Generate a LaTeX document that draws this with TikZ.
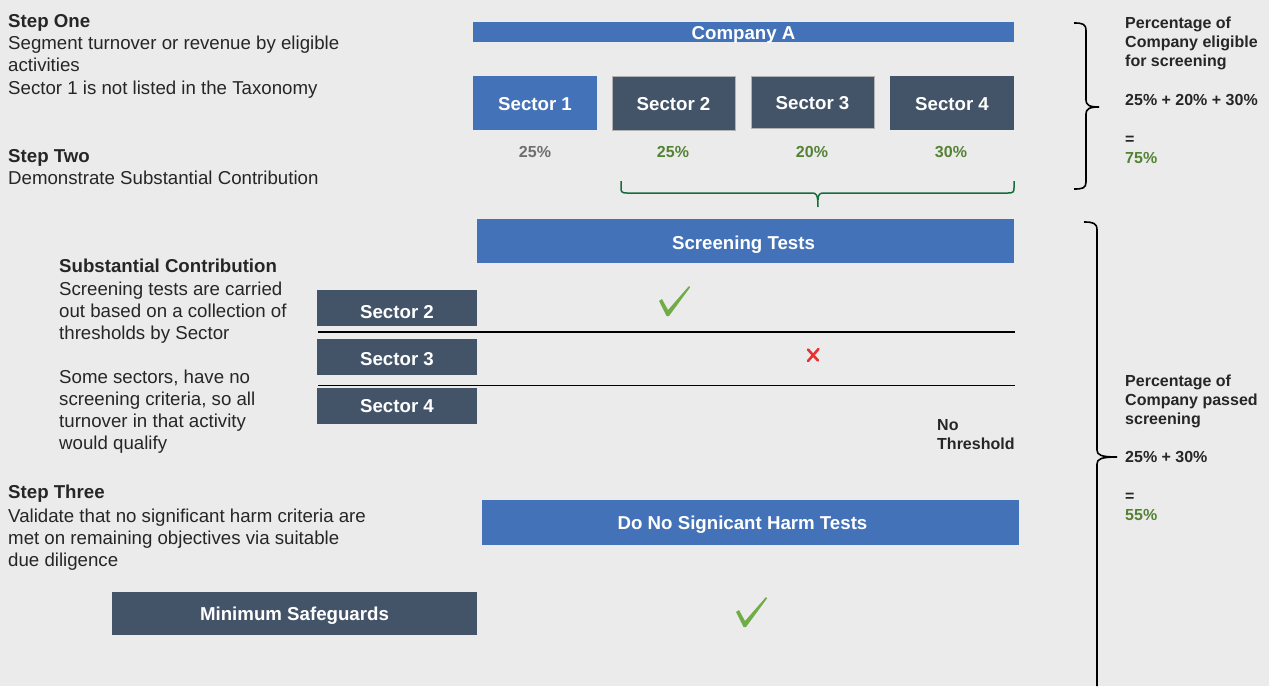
\documentclass[tikz,border=0pt]{standalone}
\usepackage{fontspec}
\setmainfont{Liberation Sans}
\definecolor{bg}{RGB}{235,235,235}
\definecolor{cblue}{RGB}{68,114,184}
\definecolor{cslate}{RGB}{67,84,105}
\definecolor{ctext}{RGB}{38,38,38}
\definecolor{cgreen}{RGB}{84,130,53}
\definecolor{cgray}{RGB}{110,110,110}
\definecolor{bracegreen}{RGB}{20,110,60}
\definecolor{checkgreen}{RGB}{112,173,71}
\definecolor{xred}{RGB}{232,50,50}
\begin{document}
\begin{tikzpicture}[x=1pt,y=-1pt,
  bx/.style={inner sep=0pt, text=white, font=\fontsize{18.67}{22}\selectfont\bfseries, text height=#1, text depth=0pt},
  bluebox/.style={bx=#1, fill=cblue},
  slatebox/.style={bx=#1, fill=cslate},
  txt/.style={inner sep=0pt, anchor=base west, text=ctext, font=\fontsize{18.67}{22}\selectfont},
  btxt/.style={txt, font=\fontsize{18.67}{22}\selectfont\bfseries},
  rtxt/.style={inner sep=0pt, anchor=base west, text=ctext, font=\fontsize{16}{19}\selectfont\bfseries},
  pct/.style={inner sep=0pt, anchor=base, font=\fontsize{16}{19}\selectfont\bfseries},
  brace/.style={line width=1.6pt, black},
  chk/.pic={\fill[checkgreen] (0,15) -- (3,13) -- (9,24) -- (30,0) -- (31,1.5) -- (10,30) -- (7.5,30) -- cycle;}
]
\useasboundingbox (0,0) rectangle (1269,686);
\fill[bg] (0,0) rectangle (1269,686);

% left texts
\node[btxt] (s1h) at (8,27) {Step One};
\node[txt] (s1a) at (8,49.5) {Segment turnover or revenue by eligible};
\node[txt] (s1b) at (8,71.7) {activities};
\node[txt] (s1c) at (8,94) {Sector 1 is not listed in the Taxonomy};
\node[btxt] (s2h) at (8,162) {Step Two};
\node[txt] (s2a) at (8,184) {Demonstrate Substantial Contribution};

\node[btxt] (sch) at (59,272.5) {Substantial Contribution};
\node[txt] (sc1) at (59,295.5) {Screening tests are carried};
\node[txt] (sc2) at (59,317.5) {out based on a collection of};
\node[txt] (sc3) at (59,339.5) {thresholds by Sector};
\node[txt] (sc4) at (59,383.5) {Some sectors, have no};
\node[txt] (sc5) at (59,405.5) {screening criteria, so all};
\node[txt] (sc6) at (59,427.5) {turnover in that activity};
\node[txt] (sc7) at (59,449.5) {would qualify};

\node[btxt] (s3h) at (8,498.5) {Step Three};
\node[txt] (s3a) at (8,522.5) {Validate that no significant harm criteria are};
\node[txt] (s3b) at (8,544.5) {met on remaining objectives via suitable};
\node[txt] (s3c) at (8,566.5) {due diligence};

% top boxes
\node[bluebox=14.4pt, minimum width=541pt, minimum height=20pt] (comp) at (743.5,32) {Company A};
\node[bluebox=14.8pt, minimum width=124pt, minimum height=54pt] (sec1) at (535,103) {Sector 1};
\node[slatebox=14.8pt, draw=gray!60, line width=0.6pt, minimum width=123pt, minimum height=54pt] (sec2) at (673.5,103) {Sector 2};
\node[slatebox=14.8pt, draw=gray!60, line width=0.6pt, minimum width=123pt, minimum height=52pt] (sec3) at (812.5,102) {Sector 3};
\node[slatebox=14.8pt, minimum width=124pt, minimum height=54pt] (sec4) at (952,103) {Sector 4};

\node[pct, text=cgray] (p1) at (535,157) {25\%};
\node[pct, text=cgreen] (p2) at (673,157) {25\%};
\node[pct, text=cgreen] (p3) at (812,157) {20\%};
\node[pct, text=cgreen] (p4) at (951,157) {30\%};

% green brace
\coordinate (gbl) at (621,181);
\coordinate (gbr) at (1014,181);
\coordinate (gbt) at (818,207);
\draw[bracegreen, line width=1.5pt]
  (gbl) -- (621,188) .. controls (621,192) and (622,193) .. (627,193)
  -- (812,193) .. controls (816,193) and (818,194) .. (gbt);
\draw[bracegreen, line width=1.5pt]
  (gbr) -- (1014,188) .. controls (1014,192) and (1013,193) .. (1008,193)
  -- (824,193) .. controls (820,193) and (818,194) .. (818,200);

% screening
\node[bluebox=17.4pt, minimum width=537pt, minimum height=44pt] (scr) at (745.5,241) {Screening Tests\hspace*{4pt}};
\node[slatebox=21pt, minimum width=160pt, minimum height=35.7pt] (ss2) at (397,307.8) {Sector 2};
\node[slatebox=16.4pt, minimum width=160pt, minimum height=35.7pt] (ss3) at (397,356.8) {Sector 3};
\node[slatebox=12.8pt, minimum width=160pt, minimum height=35.7pt] (ss4) at (397,405.8) {Sector 4};
\coordinate (l1a) at (318,332);
\coordinate (l1b) at (1015,332);
\coordinate (l2a) at (318,385.3);
\coordinate (l2b) at (1015,385.3);
\draw[line width=1.6pt] (l1a) -- (l1b);
\draw[line width=1.1pt] (l2a) -- (l2b);

\pic at (659,286) {chk};
\draw[xred, line width=2.6pt, line cap=round] (808,349.5) -- (818,360.5) (818.5,349) -- (808,361);

\node[rtxt] (nt1) at (937,430) {No};
\node[rtxt] (nt2) at (937,449) {Threshold};

% DNSH
\node[bluebox=14.4pt, minimum width=537pt, minimum height=45pt] (dnsh) at (750.5,522.5) {Do No Signicant Harm Tests\hspace*{16pt}};
\node[slatebox=14.4pt, minimum width=365pt, minimum height=43pt] (mins) at (294.5,613.5) {Minimum Safeguards};
\pic at (736,597) {chk};

% right braces
\draw[brace] (1074,23) .. controls (1083,23) and (1086,24) .. (1086,31)
  -- (1086,100) .. controls (1086,105) and (1089,107) .. (1099,107)
  .. controls (1089,107) and (1086,109) .. (1086,114)
  -- (1086,182) .. controls (1086,188) and (1083,189) .. (1074,189);
\draw[brace] (1084,222) .. controls (1093,222) and (1097,223) .. (1097,230)
  -- (1097,450) .. controls (1097,455) and (1101,457) .. (1117,457)
  .. controls (1101,457) and (1097,459) .. (1097,464)
  -- (1097,686);

% right texts
\node[rtxt] (r1a) at (1125,28.3) {Percentage of};
\node[rtxt] (r1b) at (1125,47) {Company eligible};
\node[rtxt] (r1c) at (1125,66) {for screening};
\node[rtxt] (r1d) at (1125,105) {25\% + 20\% + 30\%};
\node[rtxt] (r1e) at (1125,144.3) {=};
\node[rtxt, text=cgreen] (r1f) at (1125,163.3) {75\%};

\node[rtxt] (r2a) at (1125,386.7) {Percentage of};
\node[rtxt] (r2b) at (1125,405.7) {Company passed};
\node[rtxt] (r2c) at (1125,424.7) {screening};
\node[rtxt] (r2d) at (1125,462.7) {25\% + 30\%};
\node[rtxt] (r2e) at (1125,501.7) {=};
\node[rtxt, text=cgreen] (r2f) at (1125,520.7) {55\%};
\end{tikzpicture}
\end{document}
